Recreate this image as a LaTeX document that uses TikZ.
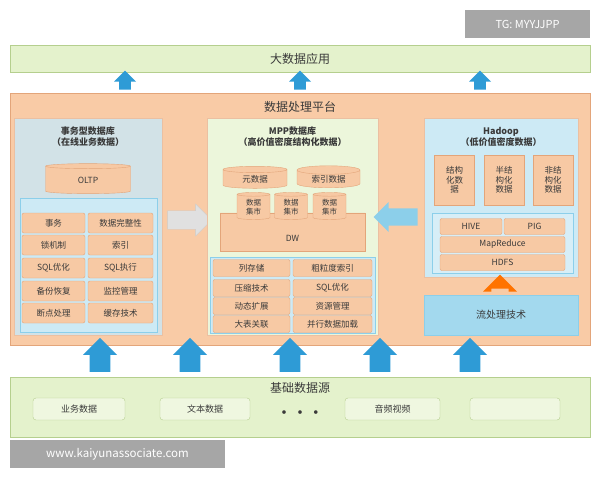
\documentclass[tikz,border=0pt]{standalone}
\usepackage{fontspec}
\setmainfont{Noto Sans CJK SC}
\usetikzlibrary{shapes.geometric,shapes.arrows}
\definecolor{gbar}{HTML}{E4F2CC}
\definecolor{gline}{HTML}{B5CF8E}
\definecolor{plat}{HTML}{F9CBA6}
\definecolor{cell}{HTML}{F7C9A4}
\definecolor{cellline}{HTML}{E3A57A}
\definecolor{lblue}{HTML}{CDEAF5}
\definecolor{sblue}{HTML}{8CCFEA}
\definecolor{ablue}{HTML}{2E9BD6}
\definecolor{txt}{HTML}{3A3A3A}
\begin{document}
\begin{tikzpicture}[x=1pt,y=-1pt,
  every node/.style={text=txt,font=\fontsize{8.5}{9.5}\selectfont},
  cellbox/.style={draw=cellline,fill=cell,rounded corners=2pt,line width=0.4pt,inner sep=0pt},
  cyl/.style={cylinder,shape border rotate=90,aspect=0.25,draw=cellline,fill=cell,inner sep=0pt},
  uparrow/.style={single arrow,shape border rotate=90,fill=ablue,draw=none,single arrow head extend=5pt,inner sep=0pt,text height=0pt,text depth=0pt},
  title/.style={font=\bfseries\fontsize{9}{11}\selectfont,align=center}]
\fill[white] (0,0) rectangle (600,480);
% top bar
\node[draw=gline,fill=gbar,minimum width=580pt,minimum height=27pt,font=\fontsize{12}{13}\selectfont] (app) at (300,58.5) {大数据应用};
% platform
\node[draw=cellline,fill=plat,minimum width=580pt,minimum height=252pt] (plat) at (300,219) {};
\node[font=\fontsize{12}{13}\selectfont] (plattitle) at (300,107) {数据处理平台};
\foreach \x/\n in {125/a1,300/a2,480/a3}{\node[uparrow,minimum height=19pt,minimum width=22pt,text width=11pt] (\n) at (\x,83) {};}
% left panel
\node[draw=cellline!70,fill=black!12!lblue!60,minimum width=148pt,minimum height=217pt] (lp) at (88,226.5) {};
\node[title] (lt) at (88,137) {事务型数据库\\（在线业务数据）};
\node[cyl,minimum width=85pt,minimum height=30pt] (oltp) at (88,180) {OLTP};
\node[draw=sblue,fill=lblue,minimum width=137pt,minimum height=134pt] (lin) at (88.5,265) {};
\foreach \y/\a/\b [count=\i] in {223/事务/数据完整性,245/锁机制/索引,268/SQL优化/SQL执行,291/备份恢复/监控管理,313/断点处理/缓存技术}{
  \node[cellbox,minimum width=63pt,minimum height=20pt] (la\i) at (53.5,\y) {\a};
  \node[cellbox,minimum width=65pt,minimum height=20pt] (lb\i) at (120.5,\y) {\b};}
% right-pointing arrow
\node[single arrow,fill=black!12,draw=black!20,minimum height=44pt,minimum width=32pt,single arrow head extend=6pt,inner sep=0pt,text height=16pt,text width=0pt] (rarr) at (185,220) {};
% middle panel
\node[draw=cellline!70,fill=gbar!70,minimum width=171pt,minimum height=217pt] (mp) at (292.5,226.5) {};
\node[title] (mt) at (292.5,137) {MPP数据库\\（高价值密度结构化数据）};
\node[cyl,minimum width=145pt,minimum height=38pt,aspect=0.15] (dw) at (292.5,232) {};
\node (dwt) at (292.5,238) {DW};
\node[cyl,minimum width=64pt,minimum height=22pt] (meta) at (255,179) {元数据};
\node[cyl,minimum width=63pt,minimum height=22pt] (idx) at (328.5,179) {索引数据};
\foreach \x [count=\i] in {253.5,291,329.5}{\node[cyl,minimum width=33pt,minimum height=27pt,align=center,font=\fontsize{7.5}{8.5}\selectfont] (mart\i) at (\x,207) {数据\\集市};}
\node[draw=sblue,fill=lblue,minimum width=165pt,minimum height=76pt] (min) at (292.5,295) {};
\foreach \y/\a/\b [count=\i] in {268/列存储/粗粒度索引,288/压缩技术/SQL优化,306/动态扩展/资源管理,324/大表关联/并行数据加载}{
  \node[cellbox,minimum width=77pt,minimum height=17pt] (ma\i) at (251.5,\y) {\a};
  \node[cellbox,minimum width=79pt,minimum height=17pt] (mb\i) at (332.5,\y) {\b};}
% left-pointing arrow
\node[single arrow,shape border rotate=180,fill=sblue,draw=none,minimum height=44pt,minimum width=30pt,single arrow head extend=6pt,inner sep=0pt,text height=16pt,text width=0pt] (larr) at (400,217) {};
% hadoop
\node[draw=cellline!70,fill=lblue,minimum width=154pt,minimum height=159pt] (hp) at (501,197.5) {};
\node[title] (ht) at (501,137) {Hadoop\\（低价值密度数据）};
\foreach \x/\t [count=\i] in {454.5/结构\\化数\\据,504/半结\\构化\\数据,553/非结\\构化\\数据}{
  \node[cellbox,rounded corners=0pt,minimum width=40pt,minimum height=50pt,align=center] (hs\i) at (\x,180) {\t};}
\node[draw=sblue,fill=lblue!80,minimum width=141pt,minimum height=60pt] (hin) at (502.5,243) {};
\node[cellbox,minimum width=62pt,minimum height=16pt] (hive) at (471,226.5) {HIVE};
\node[cellbox,minimum width=61pt,minimum height=16pt] (pig) at (534.5,226.5) {PIG};
\node[cellbox,minimum width=125pt,minimum height=16pt] (mr) at (502.5,244.5) {MapReduce};
\node[cellbox,minimum width=125pt,minimum height=16pt] (hdfs) at (502.5,262.5) {HDFS};
\node[uparrow,fill=orange!90!red,minimum height=14pt,minimum width=34pt,single arrow head extend=6pt,text width=12pt] (oarr) at (500,286) {};
\node[draw=sblue,fill=sblue!80,minimum width=154pt,minimum height=40pt,font=\fontsize{10}{11}\selectfont] (stream) at (501,315) {流处理技术};
% bottom arrows
\foreach \x [count=\i] in {100,190,290,380,470}{\node[uparrow,minimum height=34pt,minimum width=34pt,single arrow head extend=6pt,text width=18pt] (b\i) at (\x,360) {};}
% bottom bar
\node[draw=gline,fill=gbar,minimum width=580pt,minimum height=60pt] (src) at (300,407) {};
\node[font=\fontsize{12}{13}\selectfont] (srct) at (300,388) {基础数据源};
\tikzset{sbox/.style={draw=gline,fill=gbar!60,rounded corners=3pt,minimum height=22pt}}
\node[sbox,minimum width=92pt,font=\fontsize{9}{10}\selectfont] (s1) at (79,409) {业务数据};
\node[sbox,minimum width=90pt,font=\fontsize{9}{10}\selectfont] (s2) at (205,409) {文本数据};
\node[font=\bfseries\fontsize{13}{13}\selectfont] (dots) at (300,414) {• • •};
\node[sbox,minimum width=95pt,font=\fontsize{9}{10}\selectfont] (s4) at (392.5,409) {音频视频};
\node[sbox,minimum width=90pt] (s5) at (515,409) {};
% watermarks
\node[fill=black!35,text=white,minimum width=125pt,minimum height=28pt,font=\fontsize{11}{12}\selectfont] (wm1) at (527.5,24) {TG: MYYJJPP};
\node[fill=black!35,text=white,minimum width=215pt,minimum height=28pt,font=\fontsize{11.5}{12}\selectfont] (wm2) at (117.5,454) {www.kaiyunassociate.com};
\end{tikzpicture}
\end{document}
